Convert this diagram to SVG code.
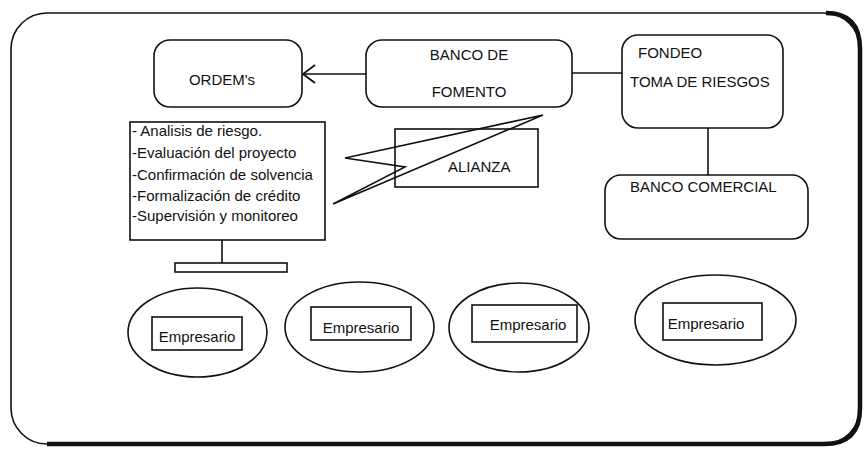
<svg xmlns="http://www.w3.org/2000/svg" width="867" height="450" viewBox="0 0 867 450">
<defs>
<style>
.s{fill:none;stroke:#111;stroke-width:1.6}
.b{fill:#fff;stroke:#111;stroke-width:1.6}
.t{font-family:"Liberation Sans",Arial,sans-serif;font-size:15px;fill:#111}
.m{text-anchor:middle}
</style>
<marker id="v" viewBox="0 0 14 20" refX="13" refY="10" markerWidth="14" markerHeight="20" markerUnits="userSpaceOnUse" orient="auto">
<path d="M1 1 L13 10 L1 19" fill="none" stroke="#111" stroke-width="1.8"/>
</marker>
</defs>
<rect width="867" height="450" fill="#fff"/>
<g id="frame">
<rect x="11" y="13" width="849" height="431" rx="36" class="s"/>
<path d="M826 13 Q860 13 860 49 L860 408 Q860 444 824 444 L47 444" fill="none" stroke="#111" stroke-width="4.5"/>
</g>
<g id="ordems">
<rect x="154" y="40" width="148" height="67" rx="16" class="b"/>
<text x="222" y="85" class="t m">ORDEM's</text>
</g>
<g id="banco-fomento">
<rect x="366" y="40" width="206" height="67" rx="16" class="b"/>
<text x="469" y="60" class="t m">BANCO DE</text>
<text x="469" y="97" class="t m">FOMENTO</text>
</g>
<g id="fondeo">
<rect x="622" y="35" width="161" height="93" rx="16" class="b"/>
<text x="638" y="58" class="t">FONDEO</text>
<text x="630" y="87" class="t">TOMA DE RIESGOS</text>
</g>
<g id="banco-comercial">
<rect x="605" y="175" width="203" height="64" rx="16" class="b"/>
<text x="630" y="192" class="t">BANCO COMERCIAL</text>
</g>
<g id="alianza">
<rect x="395" y="129" width="143" height="58" class="s"/>
<text x="448" y="172" class="t">ALIANZA</text>
</g>
<g id="servicios">
<rect x="130" y="122" width="195" height="118" class="b"/>
<text x="132" y="136" class="t">- Analisis de riesgo.</text>
<text x="132" y="158" class="t">-Evaluación del proyecto</text>
<text x="132" y="180" class="t">-Confirmación de solvencia</text>
<text x="132" y="201" class="t">-Formalización de crédito</text>
<text x="132" y="221" class="t">-Supervisión y monitoreo</text>
<line x1="222" y1="240" x2="222" y2="263" class="s"/>
<rect x="175" y="263" width="112" height="9" class="s"/>
</g>
<g id="empresario-1">
<ellipse cx="197.5" cy="332.5" rx="69.5" ry="44.5" class="s"/>
<rect x="152" y="317" width="90" height="33" class="s"/>
<text x="197" y="342" class="t m">Empresario</text>
</g>
<g id="empresario-2">
<ellipse cx="359.5" cy="327" rx="74.5" ry="45" class="s"/>
<rect x="311" y="307" width="100" height="33" class="s"/>
<text x="361" y="333" class="t m">Empresario</text>
</g>
<g id="empresario-3">
<ellipse cx="519" cy="327.5" rx="70" ry="44.5" class="s"/>
<rect x="472" y="305" width="105" height="37" class="s"/>
<text x="528" y="330" class="t m">Empresario</text>
</g>
<g id="empresario-4">
<ellipse cx="715.5" cy="320" rx="80.5" ry="45" class="s"/>
<rect x="663" y="303" width="99" height="37" class="s"/>
<text x="706" y="329" class="t m">Empresario</text>
</g>
<g id="connectors">
<line x1="366" y1="74" x2="303" y2="74" class="s" marker-end="url(#v)"/>
<line x1="572" y1="73" x2="622" y2="73" class="s"/>
<line x1="708" y1="128" x2="708" y2="175" class="s"/>
<polygon points="543,115 345,158 405,167 333,204" class="s"/>
</g>
</svg>
